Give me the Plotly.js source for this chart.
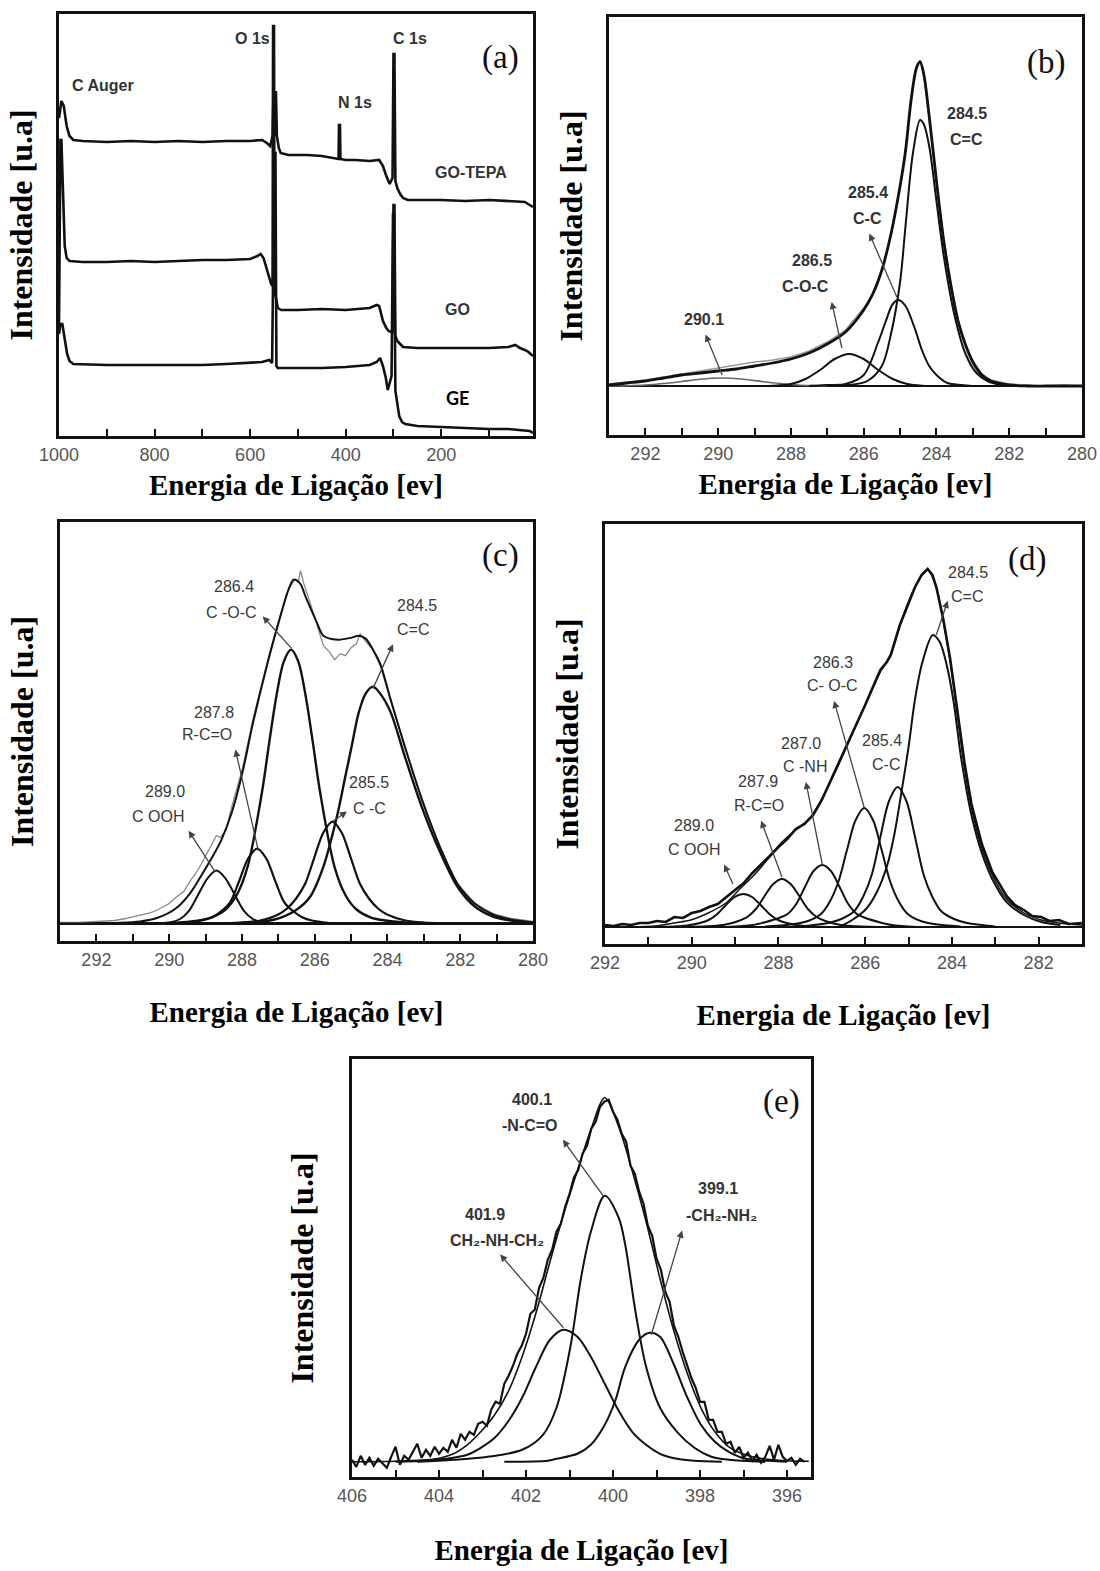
<!DOCTYPE html>
<html><head><meta charset="utf-8">
<script src="https://cdn.plot.ly/plotly-3.0.1.min.js"></script>
<style>html,body{margin:0;padding:0;background:#fff}#chart{width:1100px;height:1571px}</style>
</head><body><div id="chart"></div>
<script>
// ---------------- DATA ----------------
// (a) survey spectra: binding energy (eV) and intensity (a.u.)
const surveyE_GOTEPA = [1000,995,990,984,978,970,950,900,850,800,750,700,650,600,575,565,558,553,551,549,546,544,540,536,520,480,450,420,415,414,412,411,400,380,350,330,322,315,308,302,300,298,296,292,286,280,270,200,150,100,50,25,15,8];
const surveyI_GOTEPA = [318,335,330,310,300,296,295,294,295,294,295,294,295,295,296,293,290,300,348,300,345,300,288,283,281,281,280,278,277,311,311,277,276,276,275,276,270,260,252,258,382,382,255,248,242,238,236,236,235,236,235,234,231,229];
const surveyE_GO = [1000,997,995,992,988,984,978,950,900,850,800,750,700,650,600,585,578,572,566,560,556,553,552,550,549,546,542,535,500,450,400,350,335,330,322,315,310,302,300,298,296,292,286,280,250,200,150,100,60,45,35,20,8];
const surveyI_GO = [110,296,296,240,190,178,175,174,174,175,174,175,176,176,177,180,182,178,168,158,152,150,410,410,145,138,128,126,126,127,126,128,131,130,115,108,105,104,231,231,100,95,92,89,88,88,88,88,89,91,88,85,80];
const surveyE_GE = [1000,997,993,988,983,978,970,900,800,700,650,600,575,560,554,549,547,545,542,530,450,400,350,335,328,322,316,312,308,304,301,299,296,292,288,282,275,250,200,150,100,60,40,25,15,8];
const surveyI_GE = [102,112,112,95,82,75,72,71,71,71,72,73,74,76,73,283,283,70,68,68,68,69,71,74,78,70,58,46,52,60,222,222,45,30,20,14,12,10,9,8,7,7,6,6,5,3];
const aTickVals = [1000,800,600,400,200];
const aTickText = ['1000','800','600','400','200'];
const aLabels = ['C Auger','O 1s','C 1s','N 1s','GO-TEPA','GO','GE','(a)'];

// (b) C1s of GO
const bEnvE = [293,292.5,292,291.5,291,290.5,290,289.5,289,288.5,288,287.5,287,286.5,286,285.75,285.5,285.25,285,284.85,284.7,284.55,284.45,284.35,284.2,284,283.8,283.6,283.4,283.2,283,282.75,282.5,282,281.5,281,280.5,280];
const bEnv = [1,3,5,8,11,13,15,17,20,23,27,33,42,54,76,92,116,152,200,235,285,318,324,312,270,205,145,100,64,41,24,11,5,1,0,0,0,0];
const bRaw = [2,4,6,9,12,15,18,21,24,26,29,35,44,56,78,93,115,150,198,238,288,320,326,314,268,203,148,102,66,42,25,12,6,2,1,0,1,0];
const bCCdE = [287,286.4,285.9,285.5,285.25,285,284.85,284.65,284.45,284.35,284.2,284,283.8,283.5,283.2,282.9,282.6,282.2,281.5];
const bCCd = [0,1,5,20,52,104,160,232,266,262,240,185,130,70,32,13,5,1,0];
const bCCsE = [287.5,287,286.5,286,285.6,285.4,285.2,285.04,284.85,284.6,284.4,284.2,284,283.7,283.3,283];
const bCCs = [0,1,2,11,44,64,82,86,80,58,36,20,11,3,1,0];
const bCOCE = [289.5,289,288.5,288,287.6,287.2,286.8,286.4,286,285.6,285.2,284.8,284.4,284,283.5];
const bCOC = [0,0.1,0.3,2,7,16,27,32,27,16,7,2,0.3,0.1,0];
const bP290E = [293,292.5,292,291.5,291,290.5,289.9,289.3,288.8,288.3,287.8,287.3,287];
const bP290 = [0,0.3,1,2.5,4.5,6.8,8,6.8,4.5,2.5,1,0.3,0];
const cTickVals = [292,290,288,286,284,282,280];
const cTickText = ['292','290','288','286','284','282','280'];
const bLabels = ['290.1','286.5','C-O-C','285.4','C-C','284.5','C=C','(b)'];

// (c) C1s
const cFitE = [293,292,291.47,290.8,290.3,289.82,289.43,289.05,288.76,288.56,288.27,287.98,287.7,287.3,287,286.72,286.58,286.4,286.24,285.95,285.76,285.37,284.98,284.79,284.6,284.4,284.2,283.92,283.53,283.05,282.56,282.08,281.6,281.1,280.6,280];
const cFit = [0,0,0.5,2,6,15,30,52,70,84,112,152,200,260,300,334,344,340,326,302,288,284,286,288,285,274,260,225,178,124,77,40,20,9,4,1];
const cRawE = [293,292.5,292,291.5,291.2,290.8,290.5,290.3,290,289.82,289.6,289.43,289.2,289.05,288.85,288.7,288.6,288.45,288.27,287.98,287.7,287.3,287,286.72,286.55,286.45,286.39,286.3,286.1,285.95,285.76,285.6,285.45,285.3,285.15,285,284.85,284.75,284.6,284.4,284.2,283.92,283.53,283.05,282.56,282.08,281.6,281.1,280.6,280];
const cRaw = [1,1,2,3,5,8,11,14,20,26,32,42,54,64,78,88,86,92,118,156,204,262,302,334,344,342,353,340,318,300,278,272,264,270,268,276,280,290,282,274,258,224,177,122,76,40,20,10,5,2];
const cCOCE = [290,289.4,288.85,288.45,288.15,287.85,287.45,287.25,287.05,286.85,286.65,286.45,286.25,286.05,285.85,285.45,285.15,284.85,284.45,284.05,283.5];
const cCOC = [0.5,2,6,14,28,56,131,181,228,262,274,262,228,181,131,56,28,14,6,3,1];
const cCCdE = [288.5,287.8,287.1,286.53,286.14,285.76,285.37,285.17,284.98,284.79,284.6,284.4,284.2,283.92,283.53,283.05,282.56,282.08,281.6,281.1,280.6,280];
const cCCd = [0,1,4,13,26,57,110,145,178,211,230,237,230,212,168,116,72,37,17,7,3,1];
const cCCsE = [288.5,288,287.5,287,286.76,286.51,286.26,286.01,285.76,285.51,285.26,285.01,284.76,284.51,284.26,284.01,283.51,283,282.5];
const cCCs = [0.5,1,3,9,15,25,40,66,91,102,91,66,40,25,15,9,3,1,0.5];
const cRCOE = [289.6,289.1,288.83,288.58,288.33,288.08,287.83,287.58,287.33,287.08,286.83,286.58,286.33,286.08,285.6];
const cRCO = [0.5,3,6,12,21,42,65,75,65,42,21,12,6,3,0.5];
const cCOOHE = [290.5,290.2,289.95,289.7,289.45,289.2,288.95,288.7,288.45,288.2,287.95,287.7,287.45,287.2,286.9];
const cCOOH = [0,0.5,1.3,4.5,13,29,45,53,45,29,13,4.5,1.3,0.5,0];
const cLabels = ['286.4','C -O-C','284.5','C=C','287.8','R-C=O','289.0','C OOH','285.5','C -C','(c)'];

// (d) C1s
const dFitE = [292,291.5,290.83,290.42,290.02,289.62,289.21,288.89,288.56,288.24,287.92,287.6,287.27,287.03,286.79,286.46,286.22,285.98,285.65,285.41,285.17,284.85,284.56,284.36,284.2,284.04,283.88,283.71,283.55,283.31,283.07,282.74,282.34,281.94,281.53,281];
const dFit = [0,0,1,4,7,14,24,38,52,68,85,97,109,126,146,177,201,224,255,272,306,340,357,340,306,265,214,160,119,79,52,28,14,7,4,2];
const dRawE = [292,291.8,291.6,291.4,291.2,291,290.8,290.6,290.4,290.2,290,289.8,289.6,289.4,289.2,289,288.8,288.6,288.4,288.2,288,287.8,287.6,287.4,287.2,287,286.8,286.5,286.2,286,285.8,285.65,285.5,285.41,285.2,285,284.85,284.7,284.56,284.45,284.36,284.2,284.04,283.88,283.71,283.55,283.31,283.07,282.9,282.74,282.55,282.34,282.15,281.94,281.75,281.53,281.3,281];
const dRaw = [2,1,3,2,4,4,6,5,10,9,14,16,20,23,30,37,44,54,62,71,80,88,98,103,112,127,146,174,202,222,242,257,265,272,302,324,340,352,358,352,340,308,268,218,164,123,83,55,42,31,22,17,11,10,6,7,3,4];
const dCCdE = [286.6,286.3,285.98,285.73,285.49,285.33,285.17,285,284.85,284.68,284.44,284.28,284.12,283.96,283.79,283.55,283.31,283.07,282.74,282.34,281.94,281.5];
const dCCd = [0,7,18,35,62,92,133,180,228,265,292,285,262,225,170,112,74,48,25,12,5,2];
const dCCsE = [287.5,286.85,286.55,286.25,286.05,285.85,285.65,285.45,285.25,285.05,284.85,284.65,284.45,284.25,283.95,283.65,283];
const dCCs = [0.5,4,8,16,30,52,90,126,140,126,90,52,30,16,8,4,0.5];
const dCOCE = [288.3,287.62,287.32,287.02,286.82,286.62,286.42,286.22,286.02,285.82,285.62,285.42,285.22,285.02,284.72,284.42,283.8];
const dCOC = [0.5,3,6,13,25,45,77,107,119,107,77,45,25,13,6,3,0.5];
const dCNHE = [289.2,288.59,288.29,287.99,287.79,287.59,287.39,287.19,286.99,286.79,286.59,286.39,286.19,285.99,285.69,285.39,284.8];
const dCNH = [0,2,5,9,13,23,40,56,62,56,40,23,13,9,5,2,0];
const dRCOE = [290.1,289.52,289.22,288.92,288.72,288.52,288.32,288.12,287.92,287.72,287.52,287.32,287.12,286.92,286.62,286.32,285.7];
const dRCO = [0,1,2.5,6,10,18,31,43,48,43,31,18,10,6,2.5,1,0];
const dCOOHE = [291,290.41,290.11,289.81,289.61,289.41,289.21,289.01,288.81,288.61,288.41,288.21,288.01,287.81,287.51,287.21,286.6];
const dCOOH = [0,0.5,1.5,4,7,13,22,30,33,30,22,13,7,4,1.5,0.5,0];
const dTickVals = [292,290,288,286,284,282];
const dTickText = ['292','290','288','286','284','282'];
const dLabels = ['284.5','C=C','286.3','C- O-C','287.0','C -NH','285.4','C-C','287.9','R-C=O','289.0','C OOH','(d)'];

// (e) N1s
const eRawE = [406,405.9,405.8,405.7,405.6,405.5,405.4,405.3,405.2,405.1,405,404.9,404.8,404.7,404.6,404.5,404.4,404.3,404.2,404.1,404,403.9,403.8,403.7,403.6,403.5,403.4,403.3,403.2,403.1,403,402.9,402.8,402.7,402.6,402.5,402.4,402.3,402.2,402.1,402,401.9,401.8,401.7,401.6,401.5,401.4,401.3,401.2,401.1,401,400.9,400.8,400.7,400.6,400.5,400.4,400.3,400.2,400.1,400,399.9,399.8,399.7,399.6,399.5,399.4,399.3,399.2,399.1,399,398.9,398.8,398.7,398.6,398.5,398.4,398.3,398.2,398.1,398,397.9,397.8,397.7,397.6,397.5,397.4,397.3,397.2,397.1,397,396.9,396.8,396.7,396.6,396.5,396.4,396.3,396.2,396.1,396,395.9,395.8,395.7,395.6];
const eRaw = [2,-5,6,-3,4,-4,3,-2,-6,5,15,-3,6,2,10,18,4,12,6,15,8,14,10,22,14,28,22,30,27,38,40,36,52,60,58,78,86,96,108,116,128,148,152,174,184,202,212,230,238,255,268,284,292,308,316,333,340,355,360,362,350,342,328,320,296,288,270,258,236,226,203,192,170,160,136,125,110,97,84,74,60,60,42,42,30,30,18,20,9,15,4,9,1,7,-1,5,16,2,17,5,1,4,-3,3,0];
const eFitE = [406,405,404.5,404.06,403.67,403.35,403.04,402.72,402.4,402.09,401.77,401.45,401.14,400.82,400.51,400.19,399.87,399.56,399.24,398.92,398.61,398.29,397.98,397.66,397.34,396.95,396.55,396,395.5];
const eFit = [0,0.5,1.5,3,8,17,30,47,71,105,149,200,247,291,332,364,335,291,240,183,132,88,54,30,15,7,3,1,0.5];
const eNCOE = [404.5,403.67,402.88,402.09,401.61,401.3,400.98,400.74,400.51,400.19,399.87,399.72,399.48,399.24,398.92,398.53,398.13,397.74,397.34,396.5];
const eNCO = [0,2,5,12,27,54,115,183,230,266,244,217,149,95,54,30,14,5,2,0];
const eNHE = [405,404.3,403.83,403.35,403.04,402.72,402.4,402.09,401.77,401.45,401.14,400.82,400.51,400.19,399.87,399.56,399.24,398.92,398.53,398.13,397.5];
const eNH = [0,1,3,7,14,24,41,64,95,122,132,125,105,78,51,30,17,8,3,1,0];
const eNH2E = [402.5,401.5,401.3,400.82,400.51,400.19,399.95,399.72,399.4,399.16,398.92,398.61,398.29,397.98,397.66,397.34,396.95,396.4,396];
const eNH2 = [0,1,3,8,17,37,61,95,122,129,125,98,64,37,20,10,3,1,0];
const eTickVals = [406,404,402,400,398,396];
const eTickText = ['406','404','402','400','398','396'];
const eLabels = ['400.1','-N-C=O','401.9','CH\u2082-NH-CH\u2082','399.1','-CH\u2082-NH\u2082','(e)'];

const xTitle = 'Energia de Ligação [ev]';
const yTitle = 'Intensidade [u.a]';

// ---------------- BUILD ----------------
const W = 1100, H = 1571;
function dx(l, r) { return [l / W, r / W]; }
function dy(t, b) { return [(H - b) / H, (H - t) / H]; }

function ln(xa, ya, xs, ys, w, color, shape) {
  return {type: 'scatter', mode: 'lines', x: xs, y: ys, xaxis: xa, yaxis: ya, hoverinfo: 'skip',
    line: {color: color || '#111', width: w || 2, shape: shape || 'spline', smoothing: 0.9}};
}

const traces = [
  ln('x', 'y', surveyE_GOTEPA, surveyI_GOTEPA, 2.6, '#111', 'linear'),
  ln('x', 'y', surveyE_GO, surveyI_GO, 2.6, '#111', 'linear'),
  ln('x', 'y', surveyE_GE, surveyI_GE, 2.6, '#111', 'linear'),

  ln('x2', 'y2', bEnvE, bRaw, 1.4, '#999', 'linear'),
  ln('x2', 'y2', bP290E, bP290, 1.6, '#666'),
  ln('x2', 'y2', bCOCE, bCOC, 2),
  ln('x2', 'y2', bCCsE, bCCs, 2),
  ln('x2', 'y2', bCCdE, bCCd, 2),
  ln('x2', 'y2', bEnvE, bEnv, 2.8),

  ln('x3', 'y3', cRawE, cRaw, 1.3, '#888', 'linear'),
  ln('x3', 'y3', cCOOHE, cCOOH, 2),
  ln('x3', 'y3', cRCOE, cRCO, 2.2),
  ln('x3', 'y3', cCCsE, cCCs, 2.2),
  ln('x3', 'y3', cCOCE, cCOC, 2.4),
  ln('x3', 'y3', cCCdE, cCCd, 2.4),
  ln('x3', 'y3', cFitE, cFit, 2),

  ln('x4', 'y4', dRawE, dRaw, 2.6, '#111', 'linear'),
  ln('x4', 'y4', dCOOHE, dCOOH, 2),
  ln('x4', 'y4', dRCOE, dRCO, 2),
  ln('x4', 'y4', dCNHE, dCNH, 2),
  ln('x4', 'y4', dCOCE, dCOC, 2),
  ln('x4', 'y4', dCCsE, dCCs, 2),
  ln('x4', 'y4', dCCdE, dCCd, 2),
  ln('x4', 'y4', dFitE, dFit, 1.4),

  ln('x5', 'y5', eRawE, eRaw, 2.2, '#111', 'linear'),
  ln('x5', 'y5', eNHE, eNH, 2),
  ln('x5', 'y5', eNCOE, eNCO, 2),
  ln('x5', 'y5', eNH2E, eNH2, 2),
  ln('x5', 'y5', eFitE, eFit, 1.6)
];

const tickFont = {family: 'Liberation Sans, Arial, sans-serif', size: 18, color: '#555'};
const xTitleFont = {family: 'Liberation Serif, Times New Roman, serif', size: 29, color: '#000'};
const yTitleFont = {family: 'Liberation Serif, Times New Roman, serif', size: 32, color: '#000'};
function xax(dom, range, tv, tt, minorStep, anchor, standoff) {
  return {domain: dom, range: range, anchor: anchor, tickmode: 'array', tickvals: tv, ticktext: tt,
    ticks: 'inside', ticklen: 7, tickwidth: 2, tickcolor: '#111',
    minor: {tickmode: 'linear', tick0: 0, dtick: minorStep, ticks: 'inside', ticklen: 7, tickwidth: 2,
      tickcolor: '#111', showgrid: false},
    showline: true, mirror: true, linewidth: 3, linecolor: '#111',
    showgrid: false, zeroline: false, tickfont: tickFont, automargin: false,
    title: {text: '<b>' + xTitle + '</b>', font: xTitleFont, standoff: standoff}};
}
function yax(dom, range, anchor, zero, standoff) {
  return {domain: dom, range: range, anchor: anchor, showticklabels: false, ticks: '', showline: true,
    mirror: true, linewidth: 3, linecolor: '#111', showgrid: false, zeroline: zero, zerolinecolor: '#111',
    zerolinewidth: 2.6, automargin: false,
    title: {text: '<b>' + yTitle + '</b>', font: yTitleFont, standoff: standoff}};
}

const sansStack = 'Liberation Sans, Arial, DejaVu Sans, sans-serif';
const labFontB = {family: sansStack, size: 16, color: '#333', weight: 'bold'};
const labFontR = {family: sansStack, size: 16, color: '#3a3a3a'};
const panelFont = {family: 'Liberation Serif, Times New Roman, serif', size: 33, color: '#111'};
function lab(xa, ya, x, y, text, font) {
  return {xref: xa, yref: ya, x: x, y: y, text: text, showarrow: false, font: font, xanchor: 'center', yanchor: 'middle'};
}
// label whose text box corner (xanc/yanc) sits at (x, y); an arrow runs from there to the peak (tx, ty)
function labArr(xa, ya, x, y, text, font, xanc, yanc, tx, ty) {
  return {xref: xa, yref: ya, x: tx, y: ty, ax: x, ay: y, axref: xa, ayref: ya, text: text, font: font,
    xanchor: xanc, yanchor: yanc, showarrow: true, arrowside: 'start', startarrowhead: 2, startarrowsize: 1.1,
    arrowwidth: 1.3, arrowcolor: '#444', standoff: 0, startstandoff: 5};
}

const ann = [
  lab('x', 'y', 908, 350, aLabels[0], labFontB),
  lab('x', 'y', 596, 397, aLabels[1], labFontB),
  lab('x', 'y', 266, 397, aLabels[2], labFontB),
  lab('x', 'y', 381, 333, aLabels[3], labFontB),
  lab('x', 'y', 138, 263, aLabels[4], labFontB),
  lab('x', 'y', 167, 126, aLabels[5], labFontB),
  lab('x', 'y', 167, 38, aLabels[6], {family: 'Lato, Open Sans, sans-serif', size: 18, color: '#000', weight: 'bold'}),
  lab('x', 'y', 75, 378, aLabels[7], panelFont),

  labArr('x2', 'y2', 290.4, 56, bLabels[0], labFontB, 'center', 'bottom', 289.89, 11),
  lab('x2', 'y2', 287.42, 126, bLabels[1], labFontB),
  labArr('x2', 'y2', 286.91, 89, bLabels[2], labFontB, 'right', 'bottom', 286.6, 38),
  lab('x2', 'y2', 285.87, 194, bLabels[3], labFontB),
  labArr('x2', 'y2', 285.9, 157, bLabels[4], labFontB, 'center', 'bottom', 285.09, 89),
  lab('x2', 'y2', 283.15, 273, bLabels[5], labFontB),
  lab('x2', 'y2', 283.18, 247, bLabels[6], labFontB),
  lab('x2', 'y2', 281.0, 324, bLabels[7], panelFont),

  lab('x3', 'y3', 288.22, 337, cLabels[0], labFontR),
  labArr('x3', 'y3', 287.52, 311, cLabels[1], labFontR, 'right', 'middle', 286.63, 275),
  lab('x3', 'y3', 283.19, 318, cLabels[2], labFontR),
  labArr('x3', 'y3', 283.79, 284, cLabels[3], labFontR, 'left', 'bottom', 284.4, 235),
  lab('x3', 'y3', 288.76, 211, cLabels[4], labFontR),
  labArr('x3', 'y3', 288.21, 179, cLabels[5], labFontR, 'right', 'bottom', 287.55, 73),
  lab('x3', 'y3', 290.11, 132, cLabels[6], labFontR),
  labArr('x3', 'y3', 289.54, 97, cLabels[7], labFontR, 'right', 'bottom', 288.74, 52),
  lab('x3', 'y3', 284.5, 141, cLabels[8], labFontR),
  labArr('x3', 'y3', 285.0, 115, cLabels[9], labFontR, 'left', 'middle', 285.51, 102),
  lab('x3', 'y3', 280.9, 368, cLabels[10], panelFont),

  lab('x4', 'y4', 283.62, 355, dLabels[0], labFontR),
  labArr('x4', 'y4', 284.06, 331, dLabels[1], labFontR, 'left', 'middle', 284.36, 292),
  lab('x4', 'y4', 286.75, 265, dLabels[2], labFontR),
  labArr('x4', 'y4', 286.75, 231, dLabels[3], labFontR, 'center', 'bottom', 286.02, 119),
  lab('x4', 'y4', 287.47, 184, dLabels[4], labFontR),
  labArr('x4', 'y4', 287.39, 150, dLabels[5], labFontR, 'center', 'bottom', 286.99, 63),
  lab('x4', 'y4', 285.61, 187, dLabels[6], labFontR),
  lab('x4', 'y4', 285.53, 163, dLabels[7], labFontR),
  lab('x4', 'y4', 288.48, 146, dLabels[8], labFontR),
  labArr('x4', 'y4', 288.44, 111, dLabels[9], labFontR, 'center', 'bottom', 287.92, 50),
  lab('x4', 'y4', 289.94, 102, dLabels[10], labFontR),
  labArr('x4', 'y4', 289.3, 67, dLabels[11], labFontR, 'right', 'bottom', 289.05, 43),
  lab('x4', 'y4', 282.26, 368, dLabels[12], panelFont),

  lab('x5', 'y5', 401.86, 362, eLabels[0], labFontB),
  labArr('x5', 'y5', 401.22, 326, eLabels[1], labFontB, 'right', 'bottom', 400.23, 266),
  lab('x5', 'y5', 402.95, 247, eLabels[2], labFontB),
  labArr('x5', 'y5', 402.67, 211, eLabels[3], labFontB, 'center', 'bottom', 401.14, 134),
  lab('x5', 'y5', 397.58, 273, eLabels[4], labFontB),
  labArr('x5', 'y5', 398.38, 236, eLabels[5], labFontB, 'left', 'bottom', 399.12, 127),
  lab('x5', 'y5', 396.12, 360, eLabels[6], panelFont)
];

const layout = {
  width: W, height: H, margin: {l: 0, r: 0, t: 0, b: 0}, paper_bgcolor: '#fff', plot_bgcolor: '#fff',
  showlegend: false, hovermode: false,
  xaxis: xax(dx(59, 533), [1000, 8], aTickVals, aTickText, 100, 'y', 12),
  yaxis: yax(dy(14, 436), [0, 422], 'x', false, 14),
  xaxis2: xax(dx(609, 1082), [293, 280], cTickVals, cTickText, 1, 'y2', 12),
  yaxis2: yax(dy(17, 435), [-49, 369], 'x2', true, 14),
  xaxis3: xax(dx(60, 533), [293, 280], cTickVals, cTickText, 1, 'y3', 34),
  yaxis3: yax(dy(522, 941), [-17.5, 401.7], 'x3', true, 14),
  xaxis4: xax(dx(605, 1082), [292, 281], dTickVals, dTickText, 1, 'y4', 34),
  yaxis4: yax(dy(524, 944), [-17, 403], 'x4', true, 14),
  xaxis5: xax(dx(352, 811), [406, 395.45], eTickVals, eTickText, 1, 'y5', 36),
  yaxis5: yax(dy(1059, 1477), [-15.2, 402.7], 'x5', false, 26),
  annotations: ann
};

Plotly.newPlot('chart', traces, layout, {staticPlot: true, displayModeBar: false});
</script>
</body></html>
